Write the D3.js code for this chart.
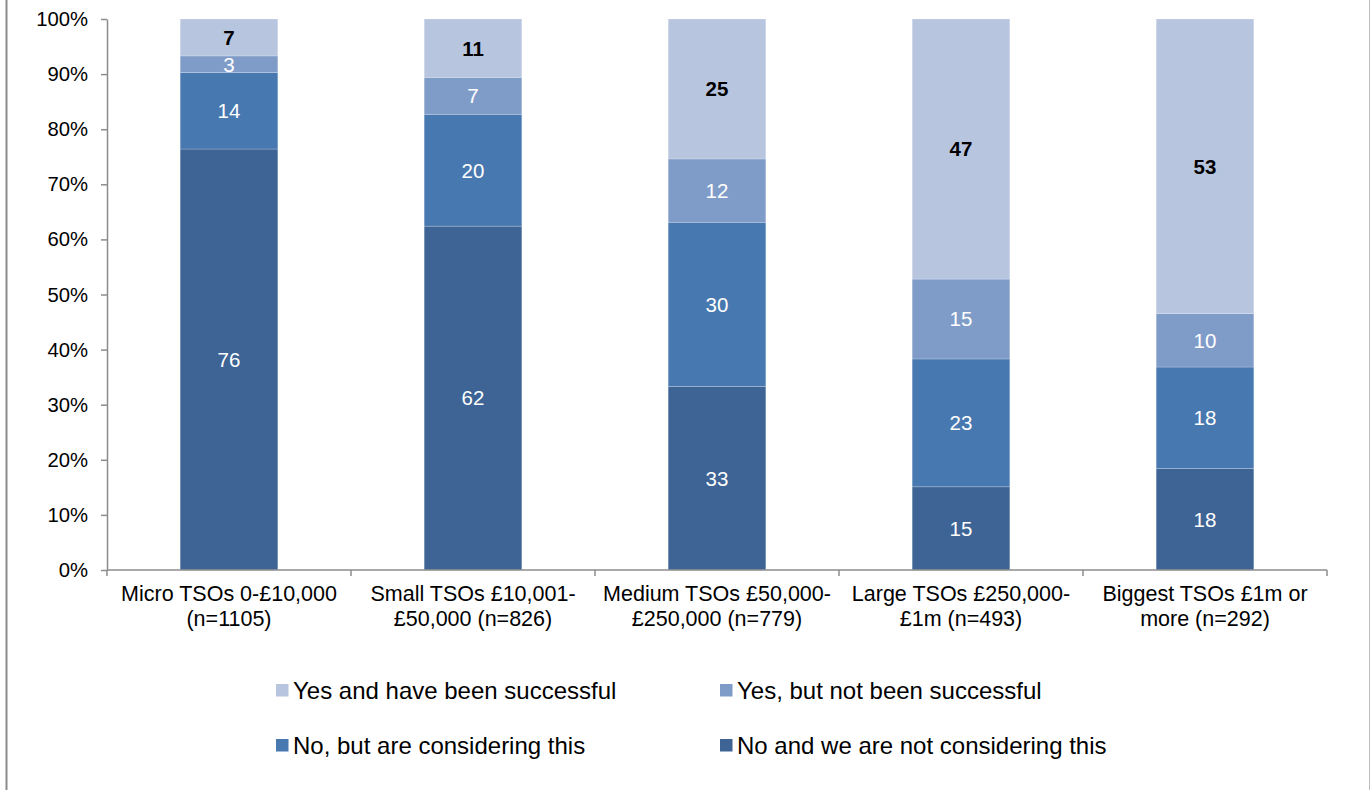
<!DOCTYPE html>
<html><head><meta charset="utf-8">
<script src="https://cdn.jsdelivr.net/npm/d3@7"></script>
<style>body{margin:0;background:#fff;}svg{display:block;font-family:Arial,"Liberation Sans",sans-serif;}</style>
</head><body>
<svg id="c" width="1370" height="790"></svg>
<script>
const categories = [
  ["Micro TSOs 0-£10,000", "(n=1105)"],
  ["Small TSOs £10,001-", "£50,000 (n=826)"],
  ["Medium TSOs £50,000-", "£250,000 (n=779)"],
  ["Large TSOs £250,000-", "£1m (n=493)"],
  ["Biggest TSOs £1m or", "more (n=292)"]
];
const seriesNames = ["No and we are not considering this", "No, but are considering this", "Yes, but not been successful", "Yes and have been successful"];
const notConsidering = [76.4, 62.4, 33.3, 15.1, 18.4];
const considering = [13.9, 20.3, 29.8, 23.2, 18.4];
const notSuccessful = [3.0, 6.7, 11.5, 14.5, 9.7];
const successful = [6.7, 10.6, 25.4, 47.2, 53.4];
const labelsShown = [
  [76, 62, 33, 15, 18],
  [14, 20, 30, 23, 18],
  [3, 7, 12, 15, 10],
  [7, 11, 25, 47, 53]
];
const yTicks = [0, 10, 20, 30, 40, 50, 60, 70, 80, 90, 100];
const colors = ["#3d6495", "#4878b0", "#7f9cc9", "#b7c5df"];

(function () {
const seriesValues = [notConsidering, considering, notSuccessful, successful];
const svg = d3.select("#c");

// frame
svg.append("line").attr("x1", 6.5).attr("x2", 6.5).attr("y1", 0).attr("y2", 790).attr("stroke", "#8c8c8c").attr("stroke-width", 2);
svg.append("line").attr("x1", 1369.5).attr("x2", 1369.5).attr("y1", 0).attr("y2", 790).attr("stroke", "#bdbdbd").attr("stroke-width", 1);

const mLeft = 107, mRight = 1327, mTop = 19, mBottom = 570;
const x = d3.scaleBand().domain(d3.range(categories.length)).range([mLeft, mRight]).paddingInner(0.6).paddingOuter(0.3);
const y = d3.scaleLinear().domain([0, 100]).range([mBottom, mTop]);

const table = categories.map((c, i) => {
  const total = d3.sum(seriesValues, s => s[i]);
  const o = { i };
  seriesValues.forEach((s, k) => o["s" + k] = s[i] / total * 100);
  return o;
});
const stack = d3.stack().keys(seriesValues.map((s, k) => "s" + k));
const stacked = stack(table);

const g = svg.append("g");
stacked.forEach((layer, k) => {
  g.selectAll(null).data(layer).enter().append("rect")
    .attr("x", d => x(d.data.i))
    .attr("width", x.bandwidth())
    .attr("y", d => y(d[1]))
    .attr("height", d => y(d[0]) - y(d[1]))
    .attr("fill", colors[k])
    .attr("stroke", "rgba(255,255,255,0.25)")
    .attr("stroke-width", 0.8);
  g.selectAll(null).data(layer).enter().append("text")
    .attr("x", d => x(d.data.i) + x.bandwidth() / 2)
    .attr("y", d => (y(d[0]) + y(d[1])) / 2)
    .attr("dy", "0.36em")
    .attr("text-anchor", "middle")
    .attr("font-size", 20.5)
    .attr("font-weight", k === 3 ? "bold" : "normal")
    .attr("fill", k === 3 ? "#000" : "#fff")
    .text(d => labelsShown[k][d.data.i]);
});

// y axis
const yAxis = d3.axisLeft(y).tickValues(yTicks).tickFormat(d => d + "%").tickSize(6).tickSizeOuter(0);
const ya = svg.append("g").attr("transform", `translate(${mLeft},0)`).call(yAxis);
ya.select(".domain").attr("stroke", "#8c8c8c").attr("stroke-width", 1.5);
ya.selectAll(".tick line").attr("stroke", "#8c8c8c").attr("stroke-width", 1.5);
ya.selectAll(".tick text").attr("font-size", 20.3).attr("fill", "#000").attr("x", -19).attr("font-family", "Arial, 'Liberation Sans', sans-serif");

// x axis
const boundaries = d3.range(categories.length + 1).map(i => mLeft + i * (mRight - mLeft) / categories.length);
svg.append("line").attr("x1", mLeft).attr("x2", mRight).attr("y1", mBottom).attr("y2", mBottom).attr("stroke", "#8c8c8c").attr("stroke-width", 1.5);
svg.selectAll(null).data(boundaries).enter().append("line")
  .attr("x1", d => d).attr("x2", d => d).attr("y1", mBottom).attr("y2", mBottom + 6)
  .attr("stroke", "#8c8c8c").attr("stroke-width", 1.5);
const cl = svg.selectAll(null).data(categories).enter().append("text")
  .attr("text-anchor", "middle").attr("font-size", 21.5).attr("fill", "#000");
cl.each(function(d, i) {
  const t = d3.select(this);
  d.forEach((line, j) => {
    t.append("tspan").attr("x", x(i) + x.bandwidth() / 2).attr("y", 601 + j * 25).text(line);
  });
});

// legend
const legendItems = [
  { k: 3, x: 276, y: 690 },
  { k: 2, x: 720, y: 690 },
  { k: 1, x: 276, y: 745 },
  { k: 0, x: 720, y: 745 }
];
const lg = svg.append("g");
legendItems.forEach(it => {
  lg.append("rect").attr("x", it.x).attr("y", it.y - 6).attr("width", 12.5).attr("height", 12.5).attr("fill", colors[it.k]);
  lg.append("text").attr("x", it.x + 17).attr("y", it.y).attr("dy", "0.36em").attr("font-size", 24).attr("fill", "#000").text(seriesNames[it.k]);
});
})();
</script>
</body></html>
